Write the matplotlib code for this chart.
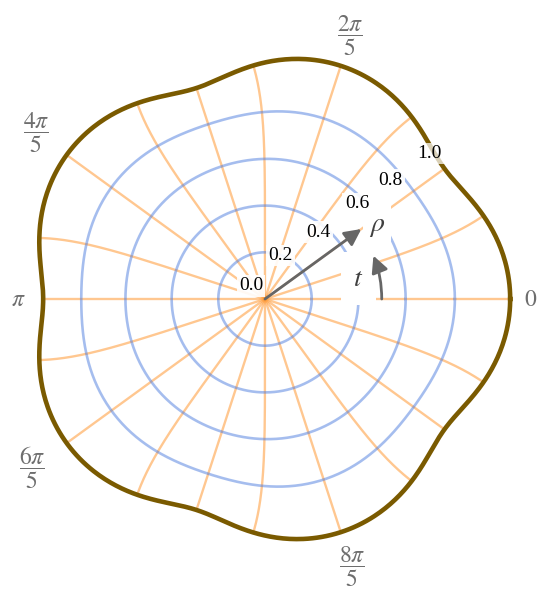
import numpy as np
import matplotlib.pyplot as plt
from matplotlib.patches import FancyArrowPatch

plt.rcParams['mathtext.fontset'] = 'stix'

# mapping w = z + C * z**6, z = rho * exp(i t)
C = 0.05
POWER = 6

rho_rings = [0.2, 0.4, 0.6, 0.8]
rho_edge = 1.0
t_steps = list(range(20))          # t = k * pi / 10
rho_labels = ["0.0", "0.2", "0.4", "0.6", "0.8", "1.0"]
rho_label_vals = [0.0, 0.2, 0.4, 0.6, 0.8, 1.0]
tick_labels = [r"$0$", r"$\dfrac{2\pi}{5}$", r"$\dfrac{4\pi}{5}$", r"$\pi$",
               r"$\dfrac{6\pi}{5}$", r"$\dfrac{8\pi}{5}$"]
tick_angles = [0, 2*np.pi/5, 4*np.pi/5, np.pi, 6*np.pi/5, 8*np.pi/5]


def mapw(rho, t):
    z = rho * np.exp(1j * t)
    return z + C * z**POWER


# layout: pixel geometry of the 550x602 picture
SCALE = 233.5
CX, CY = 265, 299

fig = plt.figure(figsize=(5.5, 6.02), dpi=100)
ax = fig.add_axes([0, 0, 1, 1])
ax.set_xlim(-CX / SCALE, (550 - CX) / SCALE)
ax.set_ylim(-(602 - CY) / SCALE, CY / SCALE)
ax.axis('off')

orange = '#ff9a36'
blue = '#4d7ddf'

rr = np.linspace(0, 1, 300)
for k in t_steps:
    w = mapw(rr, k * np.pi / 10)
    ax.plot(w.real, w.imag, color=orange, alpha=0.55, lw=1.7,
            solid_capstyle='butt', zorder=1)

tt = np.linspace(0, 2*np.pi, 800)
for r in rho_rings:
    w = mapw(r, tt)
    ax.plot(w.real, w.imag, color=blue, alpha=0.5, lw=1.9, zorder=2)

w = mapw(rho_edge, tt)
ax.plot(w.real, w.imag, color='#7a5a00', lw=3.3, zorder=3)

# rho labels along t = pi/5
lab_off = [(-14, 13), (-22, 16), (-22, 12), (-21, 13), (-23, 11), (-15, 15)]
for lab, v, off in zip(rho_labels, rho_label_vals, lab_off):
    p = mapw(v, np.pi/5)
    a = 0.72 if lab == "1.0" else 0.9
    ax.annotate(lab, (p.real, p.imag), xytext=off, textcoords='offset pixels',
                ha='center', va='center', fontsize=14,
                family='Liberation Serif', color='black', zorder=7,
                bbox=dict(boxstyle='square,pad=0.12', fc='white', ec='none', alpha=a))

# angle tick labels
tick_r = [1.139, 1.185, 1.212, 1.055, 1.233, 1.206]
for lab, ang, r in zip(tick_labels, tick_angles, tick_r):
    ax.text(r*np.cos(ang), r*np.sin(ang), lab, ha='center', va='center',
            fontsize=17, color='#6e6e6e', zorder=5)

# coordinate arrows
a_ang = np.pi/5
ax.add_patch(FancyArrowPatch((0, 0), (0.51*np.cos(a_ang), 0.51*np.sin(a_ang)),
                             arrowstyle='-|>,head_length=10,head_width=5',
                             color='#666666', lw=2, zorder=6,
                             shrinkA=0, shrinkB=0))
arc_end = 0.38
ax.add_patch(FancyArrowPatch((0.5, 0), (0.5*np.cos(arc_end), 0.5*np.sin(arc_end)),
                             connectionstyle='arc3,rad=%.3f' % np.tan(arc_end/4),
                             arrowstyle='-|>,head_length=10,head_width=5',
                             color='#666666', lw=2, zorder=6,
                             shrinkA=0, shrinkB=0))

ax.text(0.575*np.cos(0.585), 0.575*np.sin(0.585), r'$\rho$', ha='center',
        va='center', fontsize=20, color='#404040', zorder=5,
        bbox=dict(boxstyle='square,pad=0.22', fc='white', ec='none'))
ax.text(0.41*np.cos(0.22), 0.41*np.sin(0.22), r'$t$', ha='center',
        va='center', fontsize=20, color='#404040', zorder=5,
        bbox=dict(boxstyle='square,pad=0.45', fc='white', ec='none'))

fig.savefig('out.png', dpi=100)
